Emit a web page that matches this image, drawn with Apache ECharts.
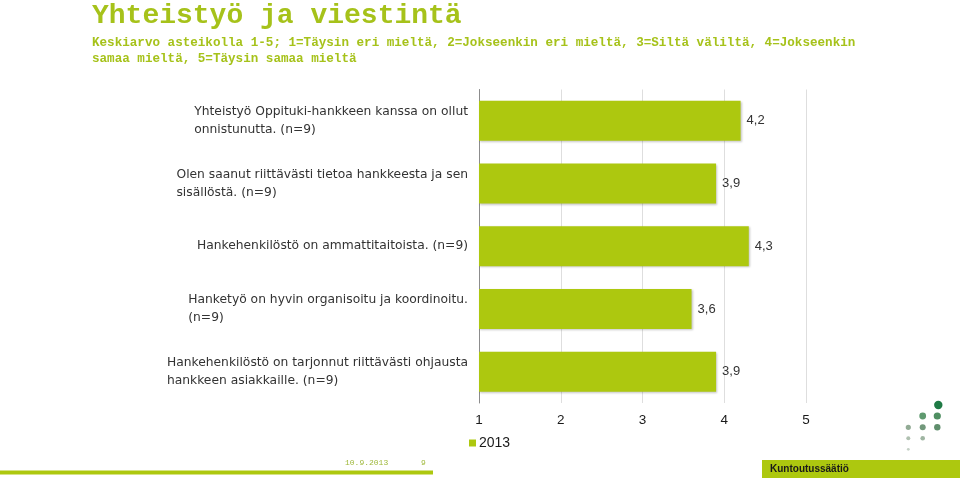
<!DOCTYPE html>
<html>
<head>
<meta charset="utf-8">
<script src="https://cdn.jsdelivr.net/npm/echarts@6/dist/echarts.min.js"></script>
<style>
html,body{margin:0;padding:0;background:#fff;}
#chart{width:960px;height:478px;}
</style>
</head>
<body>
<div id="chart"></div>
<script>
const titleText = 'Yhteistyö ja viestintä';
const subtitleText = 'Keskiarvo asteikolla 1-5; 1=Täysin eri mieltä, 2=Jokseenkin eri mieltä, 3=Siltä väliltä, 4=Jokseenkin\nsamaa mieltä, 5=Täysin samaa mieltä';
const categories = [
  'Yhteistyö Oppituki-hankkeen kanssa on ollut\nonnistunutta. (n=9)',
  'Olen saanut riittävästi tietoa hankkeesta ja sen\nsisällöstä. (n=9)',
  'Hankehenkilöstö on ammattitaitoista. (n=9)',
  'Hanketyö on hyvin organisoitu ja koordinoitu.\n(n=9)',
  'Hankehenkilöstö on tarjonnut riittävästi ohjausta\nhankkeen asiakkaille. (n=9)'
];
const seriesName = '2013';
const values = [4.2, 3.9, 4.3, 3.6, 3.9];
const xTicks = [1, 2, 3, 4, 5];
const footerDate = '10.9.2013';
const footerPage = '9';
const footerOrg = 'Kuntoutussäätiö';

const green = '#adc80f';
const titleGreen = '#a6c21a';

const chart = echarts.init(document.getElementById('chart'), null, {renderer: 'canvas'});
chart.setOption({
  animation: false,
  backgroundColor: '#fff',
  title: {
    text: titleText,
    subtext: subtitleText,
    left: 92,
    top: 1,
    padding: 0,
    itemGap: 4,
    textStyle: {
      fontFamily: '"Liberation Mono", monospace',
      fontWeight: 'bold',
      fontSize: 28,
      lineHeight: 30,
      color: titleGreen
    },
    subtextStyle: {
      fontFamily: '"Liberation Mono", monospace',
      fontWeight: 'bold',
      fontSize: 12.6,
      lineHeight: 16,
      color: titleGreen
    }
  },
  legend: {
    data: [seriesName],
    left: 469,
    top: 436,
    padding: 0,
    icon: 'rect',
    itemWidth: 7,
    itemHeight: 7,
    itemGap: 4,
    textStyle: {
      fontFamily: '"Liberation Sans", Arial, sans-serif',
      fontSize: 14,
      color: '#1a1a1a',
      padding: [0, 0, 0, -2]
    }
  },
  grid: {
    left: 479,
    right: 154,
    top: 89.5,
    bottom: 75,
    containLabel: false
  },
  xAxis: {
    type: 'value',
    min: 1,
    max: 5,
    interval: 1,
    axisLine: {show: false},
    axisTick: {show: false},
    splitLine: {show: true, lineStyle: {color: '#dedede', width: 1}},
    axisLabel: {
      margin: 10,
      fontFamily: '"Liberation Sans", Arial, sans-serif',
      fontSize: 13.5,
      color: '#1a1a1a',
      formatter: function (v) { return xTicks.indexOf(v) >= 0 ? String(v) : ''; }
    }
  },
  yAxis: {
    type: 'category',
    data: categories,
    inverse: true,
    axisLine: {show: true, lineStyle: {color: '#8c8c8c', width: 1}},
    axisTick: {show: false},
    splitLine: {show: false},
    axisLabel: {
      margin: 11,
      formatter: function (v) { return '{l|' + v + '}'; },
      rich: {
        l: {
          align: 'left',
          fontFamily: '"DejaVu Sans", sans-serif',
          fontSize: 12.3,
          lineHeight: 18,
          color: '#333333'
        }
      }
    }
  },
  series: [{
    name: seriesName,
    type: 'bar',
    data: values,
    barWidth: 40,
    clip: true,
    itemStyle: {
      color: green,
      shadowColor: 'rgba(0,0,0,0.22)',
      shadowBlur: 2,
      shadowOffsetX: 1,
      shadowOffsetY: 1
    },
    label: {
      show: true,
      position: 'right',
      distance: 6,
      fontFamily: '"Liberation Sans", Arial, sans-serif',
      fontSize: 13,
      color: '#333333',
      formatter: function (p) { return p.value.toFixed(1).replace('.', ','); }
    }
  }],
  graphic: [
    {type: 'rect', shape: {x: 0, y: 470.5, width: 433, height: 4}, style: {fill: green}, silent: true},
    {type: 'text', x: 345, y: 463, style: {text: footerDate, font: '8px "Liberation Mono", monospace', fill: '#9fb83a', verticalAlign: 'middle'}},
    {type: 'text', x: 421, y: 463, style: {text: footerPage, font: '8px "Liberation Mono", monospace', fill: '#9fb83a', verticalAlign: 'middle'}},
    {type: 'rect', shape: {x: 762, y: 460, width: 198, height: 18}, style: {fill: green}, silent: true},
    {type: 'text', x: 770, y: 469, style: {text: footerOrg, font: 'bold 10px "Liberation Sans", Arial, sans-serif', fill: '#1a1a1a', verticalAlign: 'middle'}},
    {type: 'circle', shape: {cx: 938.3, cy: 405, r: 4.2}, style: {fill: '#1f7a45'}},
    {type: 'circle', shape: {cx: 922.7, cy: 416, r: 3.4}, style: {fill: '#5f9a6f'}},
    {type: 'circle', shape: {cx: 937.3, cy: 416, r: 3.6}, style: {fill: '#4f8f62'}},
    {type: 'circle', shape: {cx: 908.3, cy: 427.3, r: 2.6}, style: {fill: '#92ab95'}},
    {type: 'circle', shape: {cx: 922.7, cy: 427.3, r: 3}, style: {fill: '#72987b'}},
    {type: 'circle', shape: {cx: 937.3, cy: 427.3, r: 3.2}, style: {fill: '#5f8e6c'}},
    {type: 'circle', shape: {cx: 908.3, cy: 438.3, r: 2}, style: {fill: '#afc0b0'}},
    {type: 'circle', shape: {cx: 922.7, cy: 438.3, r: 2.3}, style: {fill: '#9fb5a2'}},
    {type: 'circle', shape: {cx: 908.3, cy: 449.3, r: 1.4}, style: {fill: '#c4d0c5'}}
  ]
});
</script>
</body>
</html>
